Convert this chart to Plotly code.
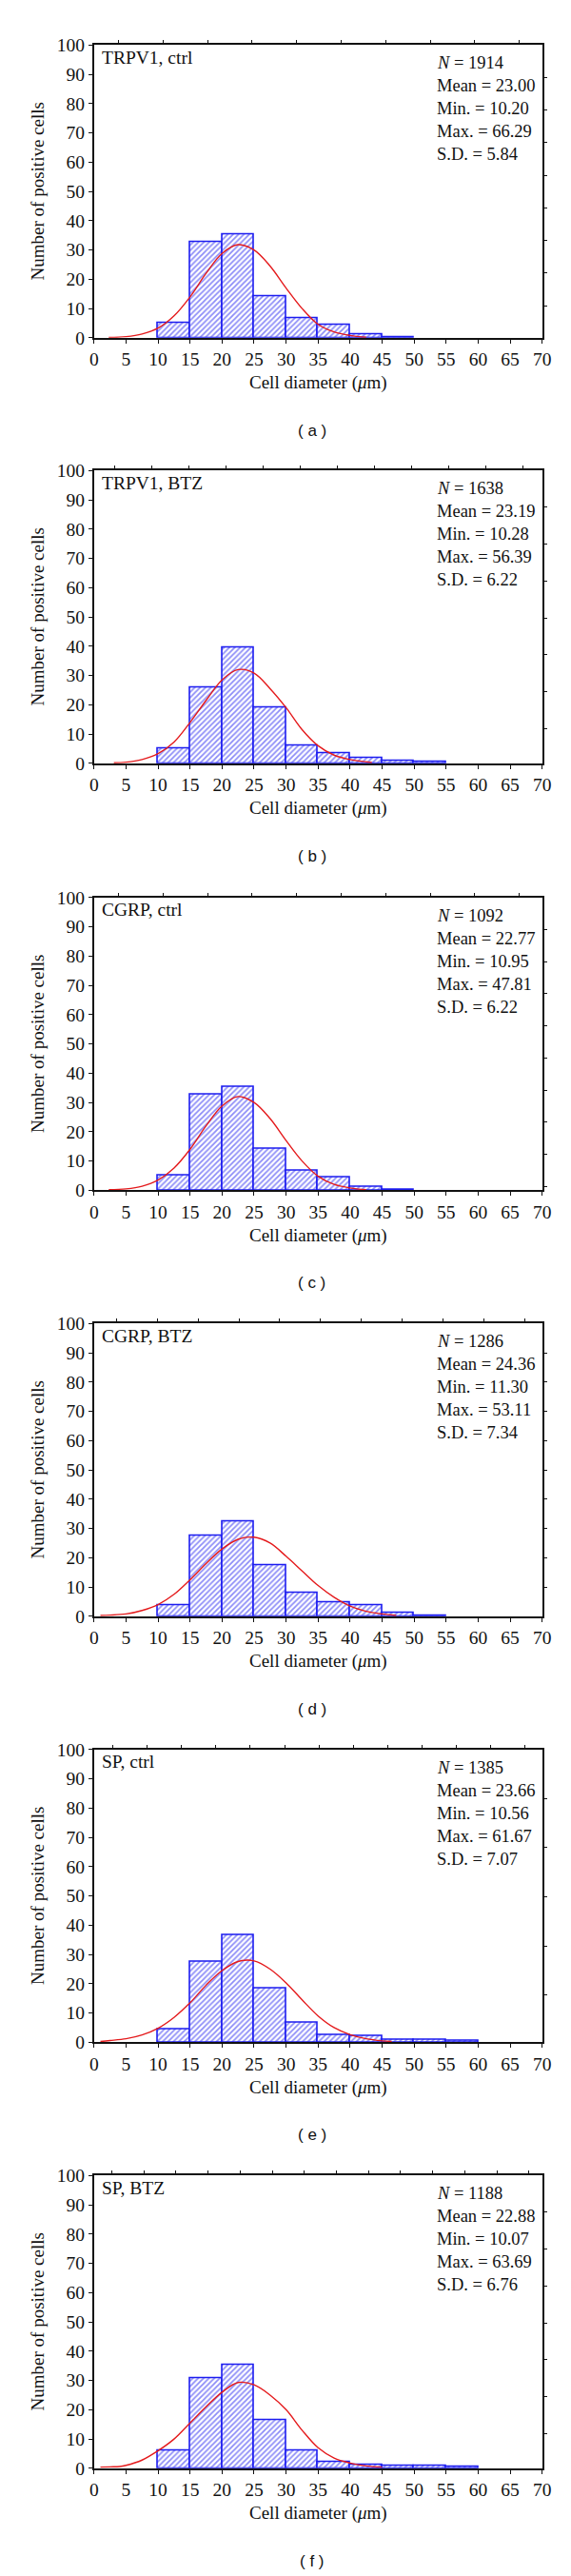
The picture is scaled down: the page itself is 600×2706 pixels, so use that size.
import plotly.graph_objects as go

# ---------------- data ----------------
bin_centers = [12.5, 17.5, 22.5, 27.5, 32.5, 37.5, 42.5, 47.5, 52.5, 57.5]

titles = ["TRPV1, ctrl", "TRPV1, BTZ", "CGRP, ctrl", "CGRP, BTZ", "SP, ctrl", "SP, BTZ"]
letters = ["a", "b", "c", "d", "e", "f"]

bars_a = [5.2, 32.8, 35.3, 14.2, 6.8, 4.4, 1.3, 0.2]
bars_b = [5.2, 25.9, 39.4, 19.2, 5.9, 3.4, 1.8, 0.9, 0.4]
bars_c = [5.2, 32.8, 35.4, 14.3, 6.8, 4.5, 1.3, 0.3]
bars_d = [3.7, 27.4, 32.5, 17.5, 8.1, 4.8, 3.7, 1.1, 0.3]
bars_e = [4.4, 27.5, 36.7, 18.3, 6.7, 2.6, 2.2, 1.0, 0.75, 0.4]
bars_f = [5.9, 30.9, 35.2, 16.5, 6.2, 2.0, 1.3, 1.0, 0.75, 0.4]

curve_x_a = [2.3, 5, 7.5, 10, 12.5, 15, 17.5, 20, 22.5, 25, 27.5, 30, 32.5, 35, 37.5, 40, 42.5]
curve_y_a = [0.1, 0.4, 1.3, 3.3, 7.5, 14.0, 22.0, 28.8, 31.8, 30.0, 24.5, 17.0, 10.0, 4.6, 2.0, 0.8, 0.2]
curve_x_b = [3.1, 5, 7.5, 10, 12.5, 15, 17.5, 20, 22.5, 25, 27.5, 30, 32.5, 35, 37.5, 40, 43.4]
curve_y_b = [0.2, 0.4, 1.3, 3.3, 7.3, 14.0, 21.5, 28.5, 32.0, 30.8, 25.5, 19.0, 11.5, 6.0, 2.8, 1.3, 0.3]
curve_x_c = [2.3, 5, 7.5, 10, 12.5, 15, 17.5, 20, 22.5, 25, 27.5, 30, 32.5, 35, 37.5, 40, 42.5]
curve_y_c = [0.2, 0.5, 1.4, 3.5, 7.6, 14.0, 22.0, 28.8, 32.0, 30.0, 24.5, 17.0, 10.0, 4.8, 2.0, 0.8, 0.2]
curve_x_d = [1.0, 2.5, 5, 7.5, 10, 12.5, 15, 17.5, 20, 22.5, 25, 27.5, 30, 32.5, 35, 37.5, 40, 42.5, 45, 47.2]
curve_y_d = [0.3, 0.4, 0.8, 2.0, 4.0, 7.5, 12.5, 18.0, 23.0, 26.3, 27.0, 25.0, 20.5, 15.5, 10.5, 6.5, 3.5, 1.7, 0.8, 0.3]
curve_x_e = [1.0, 2.5, 5, 7.5, 10, 12.5, 15, 17.5, 20, 22.5, 25, 27.5, 30, 32.5, 35, 37.5, 40, 42.5, 45, 46.5]
curve_y_e = [0.3, 0.6, 1.2, 2.5, 4.8, 8.5, 13.5, 19.5, 24.5, 27.6, 27.8, 25.0, 20.3, 14.5, 9.0, 5.0, 2.6, 1.2, 0.5, 0.3]
curve_x_f = [1.0, 2.5, 4, 5, 7.5, 10, 12.5, 15, 17.5, 20, 22.5, 25, 27.5, 30, 32.5, 35, 37.5, 40, 42.5, 45]
curve_y_f = [0.4, 0.5, 0.6, 1.0, 2.8, 6.0, 10.0, 15.5, 21.0, 26.0, 29.3, 28.5, 25.0, 20.0, 13.0, 7.0, 3.5, 1.8, 0.8, 0.4]

stat_n = [1914, 1638, 1092, 1286, 1385, 1188]
stat_mean = ["23.00", "23.19", "22.77", "24.36", "23.66", "22.88"]
stat_min = ["10.20", "10.28", "10.95", "11.30", "10.56", "10.07"]
stat_max = ["66.29", "56.39", "47.81", "53.11", "61.67", "63.69"]
stat_sd = ["5.84", "6.22", "6.22", "7.34", "7.07", "6.76"]

x_ticks = list(range(0, 75, 5))
y_ticks = list(range(0, 110, 10))

bars_all = [bars_a, bars_b, bars_c, bars_d, bars_e, bars_f]
curves_x = [curve_x_a, curve_x_b, curve_x_c, curve_x_d, curve_x_e, curve_x_f]
curves_y = [curve_y_a, curve_y_b, curve_y_c, curve_y_d, curve_y_e, curve_y_f]

# ---------------- style / layout ----------------
W, H = 600, 2706
LEFT, RIGHT = 88, 571
PLOT_H = 310
panel_tops = [29.5, 480, 932, 1383, 1834, 2285]
top_tick_spacing = [48, 40, 48, 44, 37, 34.6]
right_tick_spacing = [34.5, 39, 34, 31, 52, 39]

SERIF = "Liberation Serif"
BLUE = "#1c1cf0"
RED = "#e41a1c"
TICK_FS = 19.5
TEXT_FS = 19.5
STAT_FS = 18.5

fig = go.Figure()
layout = dict(
    width=W, height=H, margin=dict(l=0, r=0, t=0, b=0),
    paper_bgcolor="white", plot_bgcolor="white", showlegend=False,
    font=dict(family=SERIF, size=18, color="#111"),
)
annotations = []

def px_x(p):
    return p / W

def px_y(p):
    return 1 - p / H

for i in range(6):
    top = panel_tops[i]
    bot = top + PLOT_H
    xa, xb = 2 * i + 1, 2 * i + 2
    xn = lambda k: "x" if k == 1 else f"x{k}"
    yn = lambda k: "y" if k == 1 else f"y{k}"
    xkey = lambda k: "xaxis" if k == 1 else f"xaxis{k}"
    ykey = lambda k: "yaxis" if k == 1 else f"yaxis{k}"

    vals = bars_all[i]
    fig.add_trace(go.Bar(
        x=bin_centers[:len(vals)], y=vals, width=5,
        marker=dict(color="white", line=dict(color=BLUE, width=1.6),
                    pattern=dict(shape="/", fgcolor=BLUE, bgcolor="white", size=4, solidity=0.45)),
        xaxis=xn(xa), yaxis=yn(xa), hoverinfo="skip"))
    fig.add_trace(go.Scatter(
        x=curves_x[i], y=curves_y[i], mode="lines", line=dict(color=RED, width=1.4, shape="spline", smoothing=1.0),
        xaxis=xn(xa), yaxis=yn(xa), hoverinfo="skip"))
    # dummy trace for mirror axes
    fig.add_trace(go.Scatter(x=[0], y=[0], mode="markers", marker=dict(opacity=0),
                             xaxis=xn(xb), yaxis=yn(xb), hoverinfo="skip"))

    dom_x = [px_x(LEFT), px_x(RIGHT)]
    dom_y = [px_y(bot), px_y(top)]
    layout[xkey(xa)] = dict(domain=dom_x, anchor=yn(xa), range=[0, 70], tickvals=x_ticks,
                            ticks="outside", ticklen=4, tickwidth=1.3, tickcolor="#111",
                            showline=True, linecolor="#111", linewidth=1.6, showgrid=False, zeroline=False,
                            tickfont=dict(family=SERIF, size=TICK_FS, color="#111"), fixedrange=True)
    layout[ykey(xa)] = dict(domain=dom_y, anchor=xn(xa), range=[0, 100], tickvals=y_ticks,
                            ticks="outside", ticklen=4, tickwidth=1.3, tickcolor="#111",
                            showline=True, linecolor="#111", linewidth=1.6, showgrid=False, zeroline=False,
                            tickfont=dict(family=SERIF, size=TICK_FS, color="#111"), fixedrange=True)
    ts = top_tick_spacing[i]
    width_px = RIGHT - LEFT
    tvals = []
    v = ts * 0.55
    while v < width_px - 2:
        tvals.append(v)
        v += ts
    rs = right_tick_spacing[i]
    rvals = []
    v = PLOT_H - rs
    while v > 2:
        rvals.append(v)
        v -= rs
    layout[xkey(xb)] = dict(overlaying=xn(xa), side="top", anchor=yn(xa), range=[0, width_px],
                            tickvals=tvals, showticklabels=False, ticks="outside", ticklen=3,
                            tickwidth=1.2, tickcolor="#111", showline=True, linecolor="#111",
                            linewidth=1.6, showgrid=False, zeroline=False, fixedrange=True)
    layout[ykey(xb)] = dict(overlaying=yn(xa), side="right", anchor=xn(xa), range=[0, PLOT_H],
                            tickvals=rvals, showticklabels=False, ticks="outside", ticklen=3,
                            tickwidth=1.2, tickcolor="#111", showline=True, linecolor="#111",
                            linewidth=1.6, showgrid=False, zeroline=False, fixedrange=True)

    # panel title
    annotations.append(dict(xref="paper", yref="paper", x=px_x(94), y=px_y(top + 13),
                            text=titles[i], showarrow=False, xanchor="left", yanchor="middle",
                            font=dict(family=SERIF, size=TEXT_FS, color="#111")))
    # stats
    lines = [f"<i>N</i> = {stat_n[i]}", f"Mean = {stat_mean[i]}", f"Min. = {stat_min[i]}",
             f"Max. = {stat_max[i]}", f"S.D. = {stat_sd[i]}"]
    for j, t in enumerate(lines):
        annotations.append(dict(xref="paper", yref="paper", x=px_x(455), y=px_y(top + 19 + 24.2 * j),
                                text=t, showarrow=False, xanchor="left", yanchor="middle",
                                font=dict(family=SERIF, size=STAT_FS, color="#111")))
    # axis titles
    annotations.append(dict(xref="paper", yref="paper", x=px_x(27), y=px_y(top + PLOT_H / 2),
                            text="Number of positive cells", textangle=-90, showarrow=False,
                            xanchor="center", yanchor="middle",
                            font=dict(family=SERIF, size=19, color="#111")))
    annotations.append(dict(xref="paper", yref="paper", x=px_x(330), y=px_y(bot + 48),
                            text="Cell diameter (<i>μ</i>m)", showarrow=False,
                            xanchor="center", yanchor="middle",
                            font=dict(family=SERIF, size=19, color="#111")))
    annotations.append(dict(xref="paper", yref="paper", x=px_x(323), y=px_y(bot + 98),
                            text=f"( {letters[i]} )", showarrow=False,
                            xanchor="center", yanchor="middle",
                            font=dict(family="Liberation Sans", size=17, color="#111")))

layout["annotations"] = annotations
layout["bargap"] = 0
fig.update_layout(**layout)
fig.write_html("out.html")
